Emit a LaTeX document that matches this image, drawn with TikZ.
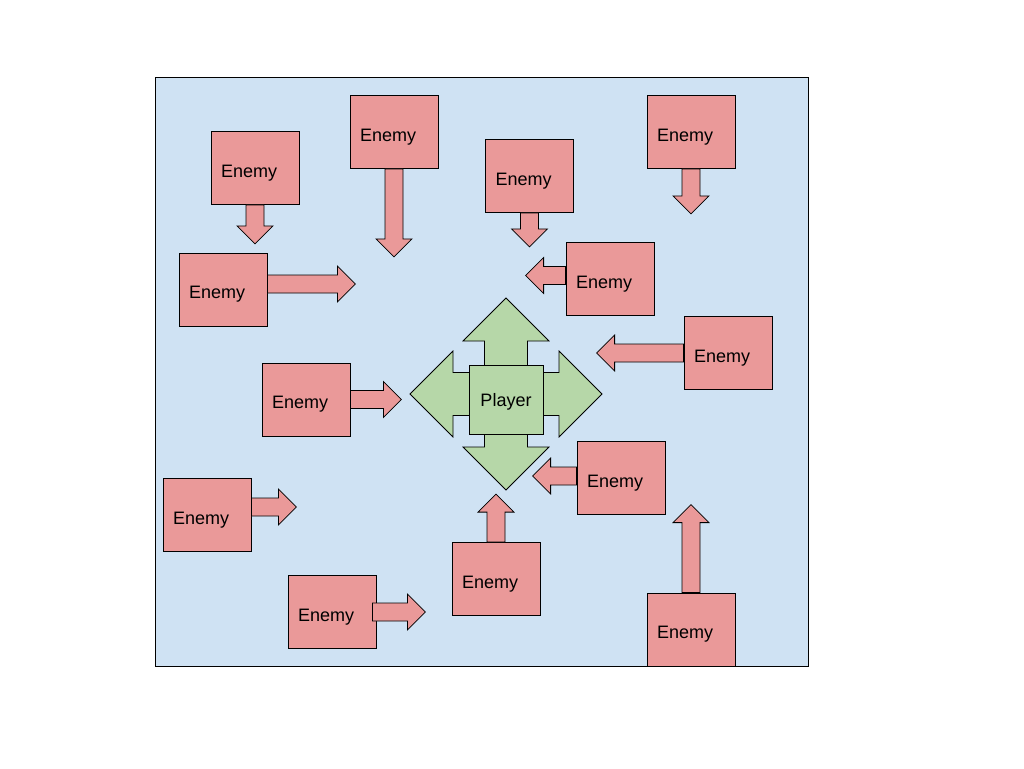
\documentclass[tikz,border=0pt]{standalone}
\usepackage{fontspec}
\setmainfont{Liberation Sans}
\usepackage{tikz}

\definecolor{bgblue}{HTML}{CFE2F3}
\definecolor{enemyred}{HTML}{EA9999}
\definecolor{playergreen}{HTML}{B6D7A8}

% #1 style, #2 start, #3 angle, #4 length, #5 half shaft, #6 half head
\newcommand{\blockarrow}[6]{%
  \draw[#1, shift={(#2)}, rotate=#3] (0,-#5) -- ({#4-#6},-#5) -- ({#4-#6},-#6)
    -- (#4,0) -- ({#4-#6},#6) -- ({#4-#6},#5) -- (0,#5) -- cycle;}

\begin{document}
\begin{tikzpicture}[x=1pt,y=-1pt,line width=0.8pt,
  enemy/.style={draw, fill=enemyred, minimum width=88pt, minimum height=73pt,
    text width=68pt, inner xsep=10pt, align=left, text height=18pt, text depth=0pt,
    font=\fontsize{18}{20}\selectfont},
  player/.style={draw, fill=playergreen, minimum width=74pt, minimum height=69pt,
    inner sep=0pt, text height=14pt, text depth=0pt, font=\fontsize{18}{20}\selectfont},
  push/.style={draw, fill=enemyred},
  move/.style={draw, fill=playergreen}]
\useasboundingbox (0,0) rectangle (1024,768);
\draw[fill=bgblue] (155,77) rectangle (808,666);

\node[enemy] (E1) at (255,168) {Enemy};
\node[enemy] (E2) at (223,289.5) {Enemy};
\node[enemy] (E3) at (394,132) {Enemy};
\node[enemy] (E4) at (529.5,176) {Enemy};
\node[enemy] (E5) at (691,132) {Enemy};
\node[enemy] (E6) at (610,279) {Enemy};
\node[enemy] (E7) at (728,353) {Enemy};
\node[enemy] (E8) at (306,399.5) {Enemy};
\node[enemy] (E9) at (207,515) {Enemy};
\node[enemy] (E10) at (332,612) {Enemy};
\node[enemy] (E11) at (496,579) {Enemy};
\node[enemy] (E12) at (691,629.5) {Enemy};
\node[enemy] (E13) at (621,478) {Enemy};

\blockarrow{push}{E1.south}{270}{39}{9}{18}
\blockarrow{push}{[yshift=5.5pt]E2.east}{0}{88}{9}{18}
\blockarrow{push}{E3.south}{270}{88}{9}{18}
\blockarrow{push}{E4.south}{270}{34}{9}{18}
\blockarrow{push}{E5.south}{270}{45}{9}{18}
\blockarrow{push}{[yshift=3.5pt]E6.west}{180}{40}{9}{18}
\blockarrow{push}{E7.west}{180}{87}{9}{18}
\blockarrow{push}{E8.east}{0}{51}{9}{18}
\blockarrow{push}{[yshift=8pt]E9.east}{0}{45}{9}{18}
\blockarrow{push}{[xshift=-4pt]E10.east}{0}{53}{9}{18}
\blockarrow{push}{E11.north}{90}{48}{9}{18}
\blockarrow{push}{E12.north}{90}{88}{9}{18}
\blockarrow{push}{[yshift=2pt]E13.west}{180}{44}{9}{18}

\coordinate (mid) at (506,394);
\foreach \a in {0,90,180,270}
    {\blockarrow{move}{mid}{\a}{96}{21.5}{43}}
\node[player] (P) at (506,399.5) {Player};
\end{tikzpicture}
\end{document}
